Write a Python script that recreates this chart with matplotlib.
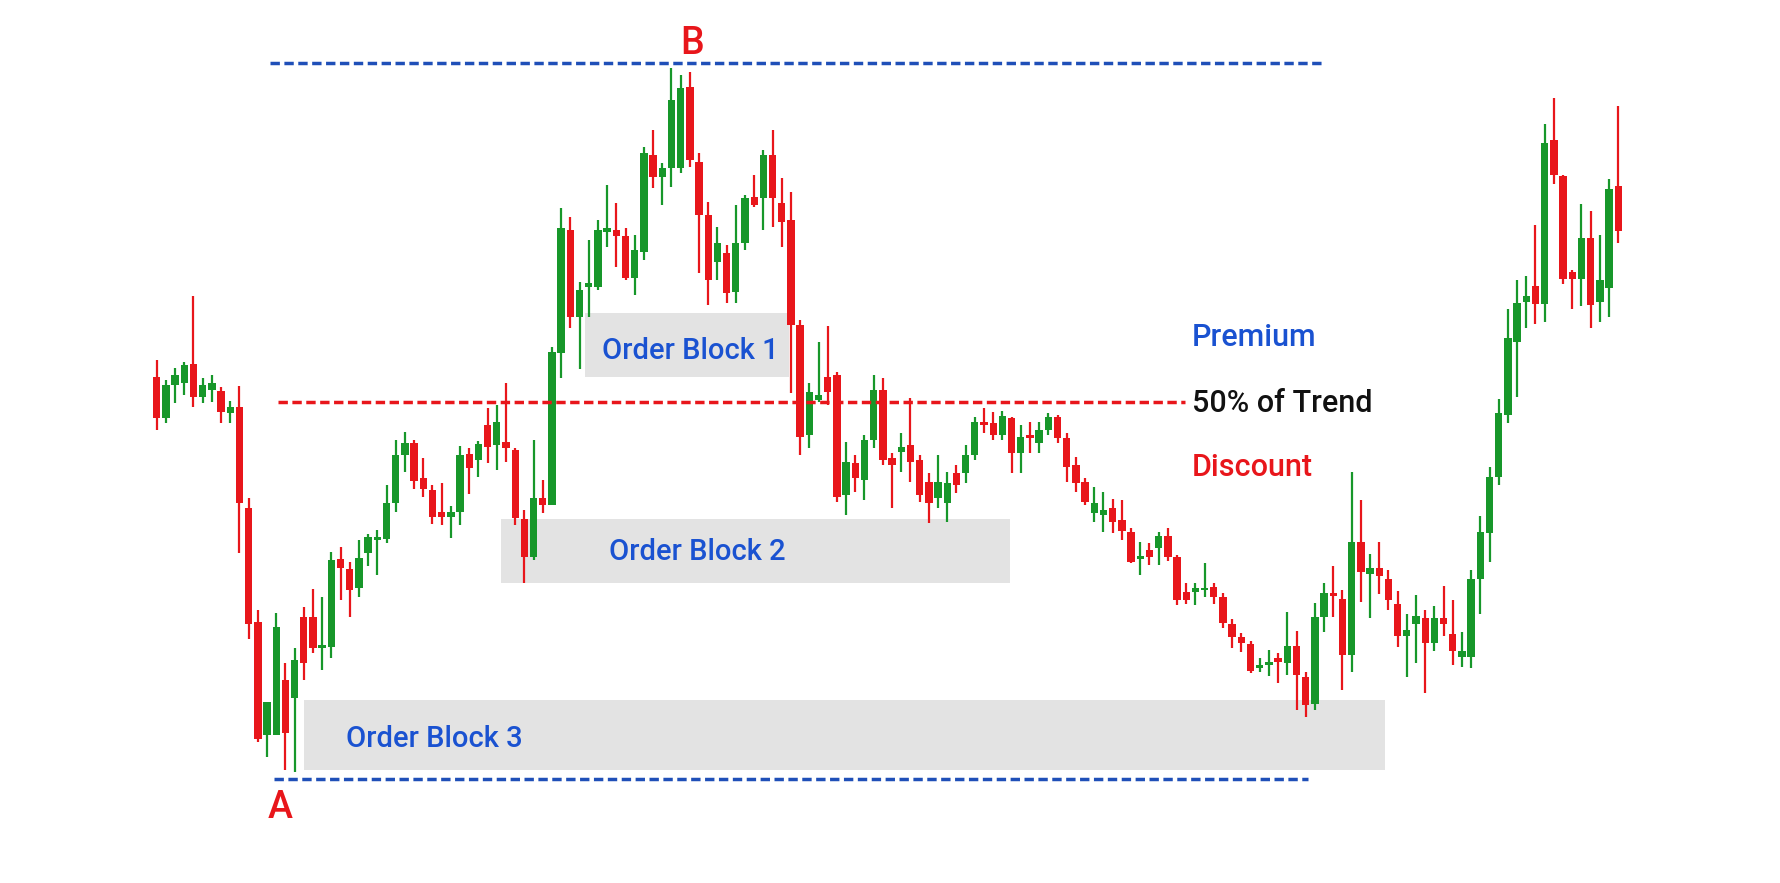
import matplotlib
matplotlib.use("Agg")
import matplotlib.pyplot as plt
from matplotlib.patches import Rectangle
import numpy as np

# ---------------- data (price units) ----------------
opens = [623, 582, 615, 617, 636, 603, 610, 609, 587, 593,
         492, 378, 265, 265, 320, 302, 383, 383, 352, 353,
         441, 431, 412, 447, 460, 461, 497, 545, 557, 522,
         510, 488, 483, 488, 546, 540, 575, 555, 558, 550,
         481, 443, 502, 495, 647, 770, 683, 713, 713, 768,
         770, 764, 722, 748, 845, 823, 832, 832, 913, 838,
         785, 738, 747, 708, 757, 803, 802, 845, 797, 780,
         675, 565, 600, 623, 625, 505, 537, 520, 560, 610,
         542, 548, 555, 540, 518, 502, 497, 527, 527, 545,
         578, 577, 565, 582, 547, 565, 557, 570, 583, 562,
         535, 518, 487, 485, 492, 480, 468, 441, 450, 452,
         464, 443, 408, 408, 410, 413, 403, 376, 363, 356,
         332, 335, 342, 337, 354, 323, 296, 383, 407, 401,
         345, 458, 426, 432, 421, 396, 364, 376, 382, 357,
         382, 366, 343, 343, 421, 467, 523, 585, 658, 698,
         714, 696, 860, 824, 728, 721, 762, 698, 712, 814]
highs = [640, 620, 632, 638, 704, 622, 625, 613, 599, 614,
         502, 390, 298, 387, 337, 352, 393, 411, 403, 448,
         453, 438, 460, 466, 470, 515, 560, 568, 560, 542,
         515, 517, 494, 554, 552, 559, 592, 595, 617, 552,
         490, 560, 520, 653, 792, 783, 718, 760, 780, 815,
         797, 772, 765, 853, 870, 837, 932, 925, 928, 847,
         798, 773, 755, 795, 805, 825, 850, 870, 822, 808,
         680, 617, 658, 674, 628, 558, 545, 565, 625, 622,
         547, 567, 602, 545, 527, 545, 528, 535, 555, 583,
         592, 588, 589, 583, 575, 578, 578, 587, 585, 567,
         543, 522, 513, 508, 501, 500, 472, 458, 457, 468,
         472, 445, 417, 417, 437, 417, 407, 381, 367, 359,
         342, 350, 347, 388, 369, 328, 397, 417, 434, 410,
         528, 500, 446, 458, 430, 409, 386, 405, 390, 394,
         414, 400, 368, 430, 484, 533, 601, 691, 720, 724,
         775, 876, 902, 825, 730, 796, 789, 765, 821, 894]
lows = [570, 577, 597, 605, 593, 597, 598, 577, 577, 447,
        361, 258, 243, 265, 230, 228, 320, 347, 330, 342,
        400, 383, 403, 434, 425, 457, 488, 528, 511, 503,
        476, 475, 462, 475, 506, 523, 537, 530, 538, 475,
        417, 440, 487, 495, 622, 672, 631, 683, 710, 753,
        733, 720, 705, 740, 812, 795, 813, 827, 833, 727,
        695, 720, 697, 697, 750, 793, 770, 773, 753, 607,
        545, 552, 598, 595, 498, 485, 508, 500, 552, 535,
        492, 528, 518, 498, 477, 492, 478, 507, 517, 540,
        567, 560, 560, 527, 527, 547, 547, 565, 557, 518,
        508, 495, 478, 468, 467, 460, 437, 425, 435, 435,
        439, 395, 396, 395, 403, 396, 372, 352, 348, 327,
        328, 324, 317, 325, 290, 283, 290, 368, 383, 310,
        328, 398, 382, 406, 390, 353, 323, 337, 307, 349,
        364, 335, 333, 332, 386, 438, 515, 577, 603, 672,
        676, 678, 816, 716, 691, 694, 672, 678, 683, 757]
closes = [582, 615, 625, 635, 603, 615, 617, 588, 593, 497,
          376, 261, 298, 373, 267, 340, 337, 352, 355, 440,
          432, 410, 442, 463, 463, 497, 545, 557, 519, 511,
          483, 483, 488, 545, 532, 556, 553, 578, 552, 482,
          443, 502, 495, 648, 772, 683, 710, 717, 770, 772,
          764, 722, 750, 847, 823, 832, 900, 912, 840, 785,
          720, 757, 707, 757, 802, 795, 845, 802, 778, 675,
          563, 608, 605, 608, 503, 538, 522, 560, 610, 540,
          535, 553, 538, 505, 497, 518, 517, 515, 545, 578,
          575, 565, 584, 547, 563, 562, 570, 583, 562, 533,
          517, 498, 497, 490, 478, 469, 438, 444, 443, 464,
          443, 400, 400, 412, 412, 403, 377, 363, 357, 329,
          335, 338, 338, 354, 325, 295, 383, 407, 404, 345,
          458, 428, 432, 424, 400, 364, 370, 384, 357, 382,
          376, 349, 349, 421, 468, 523, 587, 662, 697, 704,
          696, 857, 825, 721, 721, 762, 695, 720, 811, 769]

level_B = 937        # swing high line
level_A = 221        # swing low line
level_mid = 598      # 50% of trend line

# order blocks: (label, start index, end index, low price, high price)
ob_labels = ["Order Block 1", "Order Block 2", "Order Block 3"]
ob_start = [46.56, 37.42, 16.03]
ob_end = [68.8, 92.85, 133.66]
ob_low = [623, 417, 230]
ob_high = [687, 481, 300]

# ---------------- style ----------------
GREEN = "#17972a"
RED = "#e8161b"
BLUE_TXT = "#1a52d1"
BLUE_LINE = "#1f4fb8"
BOX = "#e3e3e3"
FONT = ["Roboto", "DejaVu Sans"]

fig = plt.figure(figsize=(17.8, 8.83), dpi=100)
ax = fig.add_axes([0, 0, 1, 1])
ax.set_axis_off()
ax.set_xlim(-17.05, 176.6)
ax.set_ylim(117, 1000)

o = np.array(opens, float)
h = np.array(highs, float)
l = np.array(lows, float)
c = np.array(closes, float)
x = np.arange(len(o))
up = c >= o
cols = np.where(up, GREEN, RED)
bottoms = np.minimum(o, c)
heights = np.maximum(np.abs(c - o), 2.5)

# order block boxes
for lab, s, e, lo, hi in zip(ob_labels, ob_start, ob_end, ob_low, ob_high):
    ax.add_patch(Rectangle((s, lo), e - s, hi - lo, facecolor=BOX,
                           edgecolor="none", zorder=0))

# candles
ax.vlines(x, l, h, colors=cols, linewidth=1.6, zorder=2)
ax.bar(x, heights, bottom=bottoms, width=0.8, color=cols, zorder=3,
       linewidth=0)

# level lines
ax.plot([12.33, 126.8], [level_B, level_B], color=BLUE_LINE, lw=2.5,
        dashes=(2.7, 1.3), zorder=5)
ax.plot([12.76, 125.3], [level_A, level_A], color=BLUE_LINE, lw=2.5,
        dashes=(2.7, 1.3), zorder=5)
ax.plot([13.2, 111.9], [level_mid, level_mid], color=RED, lw=2.5,
        dashes=(2.7, 1.3), zorder=5)

# order block labels
ob_text_pos = [(58.03, 649), (58.8, 448), (30.17, 261)]
for lab, (tx, ty) in zip(ob_labels, ob_text_pos):
    ax.text(tx, ty, lab, color=BLUE_TXT, fontsize=21, family=FONT,
            fontweight="medium", ha="center", va="center", zorder=6)

# zone labels
ax.text(112.6, 662, "Premium", color=BLUE_TXT, fontsize=22, family=FONT,
        fontweight="medium", ha="left", va="center", zorder=6)
ax.text(112.6, 597, "50% of Trend", color="#111111", fontsize=22,
        family=FONT, fontweight="medium", ha="left", va="center", zorder=6)
ax.text(112.6, 532, "Discount", color=RED, fontsize=22, family=FONT,
        fontweight="medium", ha="left", va="center", zorder=6)

# swing labels
ax.text(58.25, 956, "B", color=RED, fontsize=27, family=FONT,
        fontweight="medium", ha="center", va="center", zorder=6)
ax.text(13.41, 193, "A", color=RED, fontsize=27, family=FONT,
        fontweight="medium", ha="center", va="center", zorder=6)

fig.savefig("out.png", dpi=100, facecolor="white")
